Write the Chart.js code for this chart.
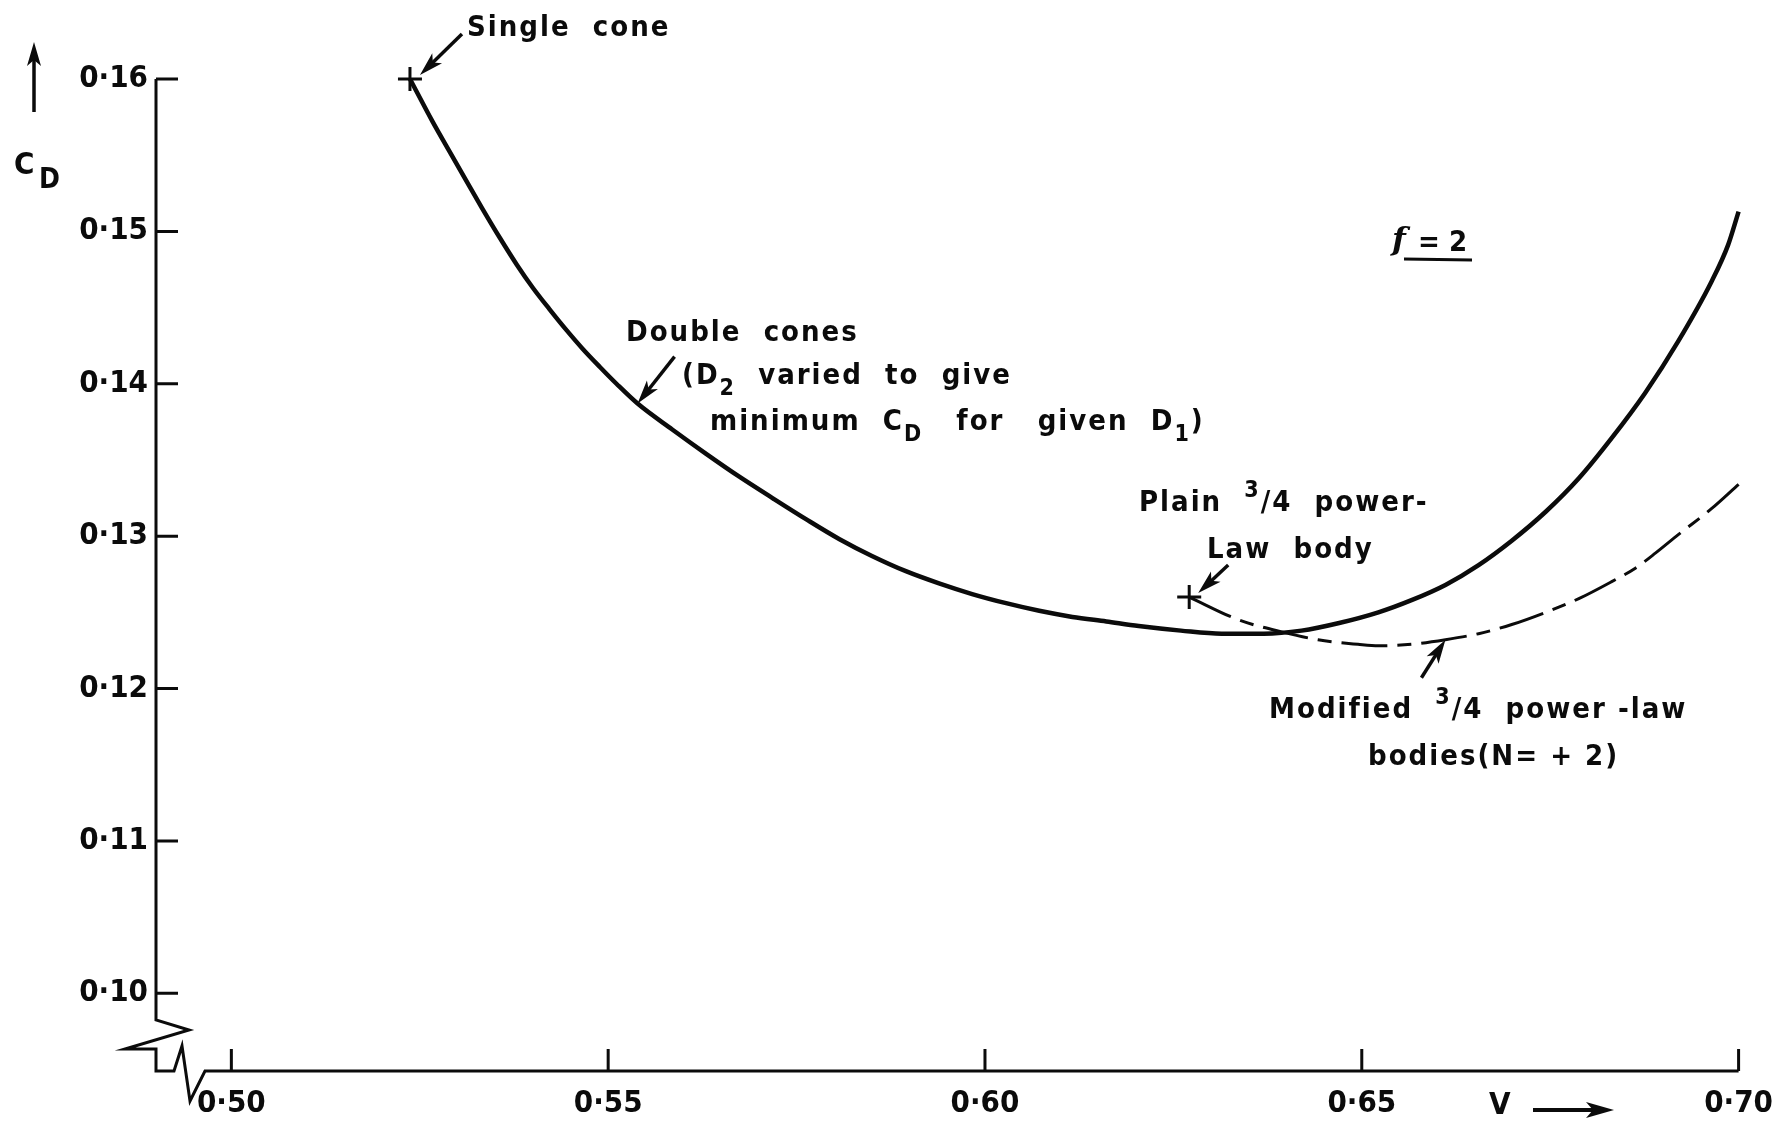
<!DOCTYPE html>
<html lang="en">
<head>
<meta charset="utf-8">
<title>C_D against V, f = 2</title>
<script src="https://cdn.jsdelivr.net/npm/chart.js@4.4.1/dist/chart.umd.min.js"></script>
<style>
  html, body { margin: 0; padding: 0; background: #ffffff; }
  canvas { display: block; }
</style>
</head>
<body>
<canvas id="chart" width="1787" height="1122"></canvas>
<script>
// Tick values on both axes
const vTicks  = [0.50, 0.55, 0.60, 0.65, 0.70];
const cdTicks = [0.10, 0.11, 0.12, 0.13, 0.14, 0.15, 0.16];

// Double cones (D2 varied to give minimum CD for given D1)
const doubleConeV  = [0.5237, 0.5267, 0.5290, 0.5312, 0.5333, 0.5356, 0.5379, 0.5400, 0.5422, 0.5445,
                      0.5466, 0.5489, 0.5511, 0.5539, 0.5585, 0.5630, 0.5674, 0.5718, 0.5763, 0.5807,
                      0.5850, 0.5895, 0.5939, 0.5983, 0.6028, 0.6072, 0.6116, 0.6161, 0.6204, 0.6260,
                      0.6314, 0.6370, 0.6420, 0.6470, 0.6522, 0.6566, 0.6611, 0.6655, 0.6699, 0.6744,
                      0.6788, 0.6831, 0.6876, 0.6920, 0.6964, 0.6986, 0.7000];
const doubleConeCd = [0.1600, 0.1572, 0.1552, 0.1533, 0.1515, 0.1496, 0.1478, 0.1463, 0.1449, 0.1435,
                      0.1423, 0.1411, 0.1400, 0.1387, 0.1370, 0.1354, 0.1339, 0.1325, 0.1311, 0.1298,
                      0.1287, 0.1277, 0.1269, 0.1262, 0.1256, 0.1251, 0.1247, 0.1244, 0.1241, 0.1238,
                      0.1236, 0.1236, 0.1238, 0.1243, 0.1250, 0.1258, 0.1268, 0.1281, 0.1297, 0.1316,
                      0.1338, 0.1364, 0.1394, 0.1428, 0.1467, 0.1491, 0.1513];

// Modified 3/4 power-law bodies (N = +2)
const modifiedV  = [0.6271, 0.6337, 0.6395, 0.6442, 0.6495, 0.6522, 0.6566, 0.6611, 0.6655, 0.6699,
                    0.6744, 0.6788, 0.6831, 0.6863, 0.6890, 0.6920, 0.6964, 0.7000];
const modifiedCd = [0.1260, 0.1245, 0.1237, 0.1232, 0.1229, 0.1228, 0.1229, 0.1232, 0.1236, 0.1242,
                    0.1250, 0.1259, 0.1270, 0.1279, 0.1289, 0.1301, 0.1318, 0.1334];

// Single cone and plain 3/4 power-law body
const singleConeV = 0.5237, singleConeCd = 0.1600;
const plainBodyV  = 0.6271, plainBodyCd  = 0.1260;

const INK = '#0b0b0b';
const SANS = "'DejaVu Sans Condensed', 'DejaVu Sans', sans-serif";

const pts = (xs, ys) => xs.map((v, i) => ({ x: v, y: ys[i] }));
const fmt = v => '0\u00B7' + String(Math.round(v * 100)).padStart(2, '0');

// Rich text: parts are [text, mode] with mode 0 normal, 1 subscript, 2 superscript
function drawRich(ctx, x, y, parts, size) {
  let cx = x;
  for (const [t, mode] of parts) {
    const s = mode ? Math.round(size * 0.8) : size;
    ctx.font = `bold ${s}px ${SANS}`;
    const dy = mode === 1 ? size * 0.45 : mode === 2 ? -size * 0.4 : 0;
    ctx.fillText(t, cx, y + dy);
    cx += ctx.measureText(t).width;
  }
  return cx;
}

function arrow(ctx, x1, y1, x2, y2, head, half) {
  const a = Math.atan2(y2 - y1, x2 - x1);
  const c = Math.cos(a), s = Math.sin(a);
  ctx.beginPath();
  ctx.moveTo(x1, y1);
  ctx.lineTo(x2 - c * head * 0.6, y2 - s * head * 0.6);
  ctx.stroke();
  ctx.beginPath();
  ctx.moveTo(x2, y2);
  ctx.lineTo(x2 - c * head + s * half, y2 - s * head - c * half);
  ctx.lineTo(x2 - c * head * 0.75, y2 - s * head * 0.75);
  ctx.lineTo(x2 - c * head - s * half, y2 - s * head + c * half);
  ctx.closePath();
  ctx.fill();
}

// Axis lines with break symbols, and inward ticks
const frame = {
  id: 'frame',
  beforeDatasetsDraw(chart) {
    const { ctx, scales: { x, y } } = chart;
    const x0 = x.left, yb = y.bottom;
    const yTop = y.getPixelForValue(cdTicks[cdTicks.length - 1]);
    const xEnd = x.getPixelForValue(vTicks[vTicks.length - 1]);
    ctx.save();
    ctx.strokeStyle = INK;
    ctx.lineWidth = 3;
    ctx.lineJoin = 'miter';
    ctx.beginPath();
    ctx.moveTo(x0, yTop);
    ctx.lineTo(x0, yb - 51);
    ctx.lineTo(x0 + 33, yb - 41);
    ctx.lineTo(x0 - 31, yb - 22);
    ctx.lineTo(x0, yb - 22);
    ctx.lineTo(x0, yb);
    ctx.lineTo(x0 + 18, yb);
    ctx.lineTo(x0 + 26, yb - 25);
    ctx.lineTo(x0 + 34, yb + 30);
    ctx.lineTo(x0 + 49, yb);
    ctx.lineTo(xEnd, yb);
    ctx.stroke();
    ctx.beginPath();
    for (const v of cdTicks) {
      const py = y.getPixelForValue(v);
      ctx.moveTo(x0, py); ctx.lineTo(x0 + 22, py);
    }
    for (const v of vTicks) {
      const px = x.getPixelForValue(v);
      ctx.moveTo(px, yb); ctx.lineTo(px, yb - 22);
    }
    ctx.stroke();
    ctx.restore();
  }
};

// Axis titles, curve labels and pointer arrows
const notes = {
  id: 'notes',
  afterDatasetsDraw(chart) {
    const { ctx, scales: { x, y } } = chart;
    const P = (v, c) => [x.getPixelForValue(v), y.getPixelForValue(c)];
    ctx.save();
    ctx.fillStyle = INK;
    ctx.strokeStyle = INK;
    ctx.lineWidth = 3.5;
    ctx.textBaseline = 'middle';
    ctx.textAlign = 'left';

    // y-axis title with upward arrow
    arrow(ctx, 34, 112, 34, 42, 24, 7);
    ctx.letterSpacing = '0px';
    ctx.font = `bold 31px ${SANS}`;
    ctx.fillText('C', 14, 166);
    ctx.font = `bold 28px ${SANS}`;
    ctx.fillText('D', 39, 181);

    // x-axis title with rightward arrow
    ctx.font = `bold 31px ${SANS}`;
    ctx.fillText('V', 1489, 1106);
    ctx.lineWidth = 4;
    arrow(ctx, 1533, 1110, 1614, 1110, 28, 8);

    ctx.letterSpacing = '2px';
    const S = 29;
    drawRich(ctx, 467, 28, [['Single  cone', 0]], S);
    drawRich(ctx, 626, 333, [['Double  cones', 0]], S);
    drawRich(ctx, 682, 376, [['(D', 0], ['2', 1], ['  varied  to  give', 0]], S);
    drawRich(ctx, 710, 422, [['minimum  C', 0], ['D', 1], ['   for   given  D', 0], ['1', 1], [')', 0]], S);
    drawRich(ctx, 1139, 503, [['Plain  ', 0], ['3', 2], ['/4  power-', 0]], S);
    drawRich(ctx, 1207, 550, [['Law  body', 0]], S);
    drawRich(ctx, 1269, 710, [['Modified  ', 0], ['3', 2], ['/4  power -law', 0]], S);
    drawRich(ctx, 1368, 757, [['bodies(N= + 2)', 0]], S);

    // f = 2, underlined
    ctx.letterSpacing = '0px';
    ctx.font = `italic bold 32px 'DejaVu Serif', serif`;
    ctx.fillText('f', 1392, 242);
    ctx.font = `bold 29px ${SANS}`;
    ctx.fillText('= 2', 1418, 243);
    ctx.lineWidth = 3;
    ctx.beginPath();
    ctx.moveTo(1404, 259); ctx.lineTo(1472, 260);
    ctx.stroke();

    // pointer arrows
    ctx.lineWidth = 3.5;
    const [sx, sy] = P(singleConeV, singleConeCd);
    arrow(ctx, sx + 52, sy - 45, sx + 10, sy - 4, 24, 7);
    const [dx, dy] = P(doubleConeV[13], doubleConeCd[13]);
    arrow(ctx, dx + 37, dy - 47, dx, dy, 24, 7);
    const [px, py] = P(plainBodyV, plainBodyCd);
    arrow(ctx, px + 39, py - 32, px + 9, py - 4, 24, 7);
    const [mx, my] = P(modifiedV[7], modifiedCd[7]);
    arrow(ctx, mx - 24, my + 38, mx, my, 24, 7);
    ctx.restore();
  }
};

const tickFont = { family: SANS, size: 31, weight: 'bold' };

new Chart(document.getElementById('chart'), {
  type: 'line',
  data: {
    datasets: [
      {
        label: 'Double cones',
        data: pts(doubleConeV, doubleConeCd),
        borderColor: INK, borderWidth: 4.5, pointRadius: 0,
        cubicInterpolationMode: 'monotone', fill: false, clip: false
      },
      {
        label: 'Modified 3/4 power-law bodies (N = +2)',
        data: pts(modifiedV, modifiedCd),
        borderColor: INK, borderWidth: 3, borderDash: [46, 10, 14, 10], pointRadius: 0,
        cubicInterpolationMode: 'monotone', fill: false, clip: false
      },
      {
        type: 'scatter',
        label: 'Single cone / plain 3/4 power-law body',
        data: [{ x: singleConeV, y: singleConeCd }, { x: plainBodyV, y: plainBodyCd }],
        pointStyle: 'cross', pointRadius: 12, borderWidth: 3,
        borderColor: INK, backgroundColor: INK, showLine: false, clip: false
      }
    ]
  },
  options: {
    responsive: false,
    animation: false,
    devicePixelRatio: 1,
    layout: { padding: { left: 0, top: 79, right: 47, bottom: 0 } },
    plugins: { legend: { display: false }, tooltip: { enabled: false } },
    scales: {
      x: {
        type: 'linear', min: 0.49, max: 0.70,
        afterBuildTicks: s => { s.ticks = vTicks.map(v => ({ value: v })); },
        afterFit: s => { s.height = 51; },
        grid: { display: false, drawTicks: false },
        border: { display: false },
        ticks: { padding: 14, color: INK, font: tickFont, callback: fmt, maxRotation: 0, autoSkip: false }
      },
      y: {
        type: 'linear', min: 0.0949, max: 0.16,
        afterBuildTicks: s => { s.ticks = cdTicks.map(v => ({ value: v })); },
        afterFit: s => { s.width = 156; },
        grid: { display: false, drawTicks: false },
        border: { display: false },
        ticks: { padding: 8, color: INK, font: tickFont, callback: fmt, autoSkip: false }
      }
    }
  },
  plugins: [frame, notes]
});
</script>
</body>
</html>
